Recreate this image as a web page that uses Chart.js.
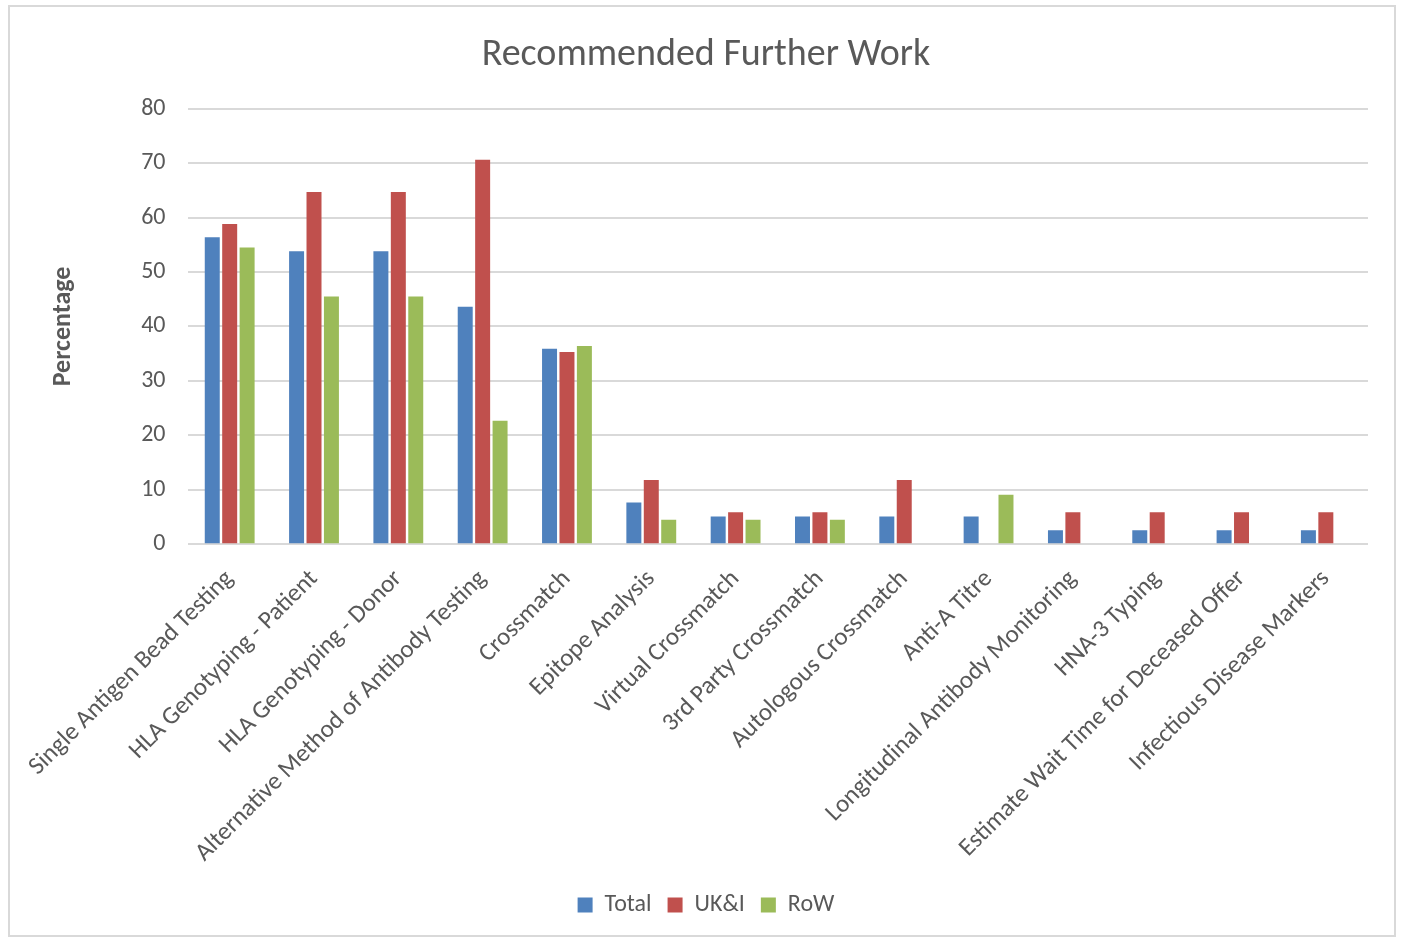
<!DOCTYPE html>
<html>
<head>
<meta charset="utf-8">
<script src="https://cdn.jsdelivr.net/npm/chart.js@4.4.1/dist/chart.umd.min.js"></script>
<style>
  html, body { margin: 0; padding: 0; background: #fff; }
  #frame {
    position: absolute; left: 8px; top: 5px; width: 1388px; height: 932px;
    border: 2px solid #d9d9d9; box-sizing: border-box; background: #fff;
  }
  #wrap { position: absolute; left: 0; top: 0; width: 1384px; height: 928px; }
</style>
</head>
<body>
<div id="frame"><div id="wrap"><canvas id="chart"></canvas></div></div>
<script>
// categorias e valores (%)
const categories = [
  'Single Antigen Bead Testing', 'HLA Genotyping - Patient', 'HLA Genotyping - Donor',
  'Alternative Method of Antibody Testing', 'Crossmatch', 'Epitope Analysis',
  'Virtual Crossmatch', '3rd Party Crossmatch', 'Autologous Crossmatch', 'Anti-A Titre',
  'Longitudinal Antibody Monitoring', 'HNA-3 Typing', 'Estimate Wait Time for Deceased Offer',
  'Infectious Disease Markers'
];
const seriesNames = ['Total', 'UK&I', 'RoW'];
const totalValues = [56.4, 53.8, 53.8, 43.6, 35.9, 7.7, 5.1, 5.1, 5.1, 5.1, 2.6, 2.6, 2.6, 2.6];
const ukiValues   = [58.8, 64.7, 64.7, 70.6, 35.3, 11.8, 5.9, 5.9, 11.8, 0, 5.9, 5.9, 5.9, 5.9];
const rowValues   = [54.5, 45.5, 45.5, 22.7, 36.4, 4.5, 4.5, 4.5, 0, 9.1, 0, 0, 0, 0];
const yTicks = [0, 10, 20, 30, 40, 50, 60, 70, 80];

const colors = ['#4f81bd', '#c0504d', '#9bbb59'];
const textColor = '#595959';
const fontFamily = "Carlito, 'Open Sans', sans-serif";

const ctx = document.getElementById('chart').getContext('2d');
new Chart(ctx, {
  type: 'bar',
  data: {
    labels: categories,
    datasets: [totalValues, ukiValues, rowValues].map((vals, i) => ({
      label: seriesNames[i],
      data: vals,
      backgroundColor: colors[i],
      borderWidth: 0,
      categoryPercentage: 0.62,
      barPercentage: 0.86
    }))
  },
  options: {
    responsive: true,
    maintainAspectRatio: false,
    animation: false,
    layout: { padding: { left: 34, right: 26, top: 10, bottom: 8 } },
    plugins: {
      title: {
        display: true,
        text: 'Recommended Further Work',
        color: textColor,
        font: { family: fontFamily, size: 38, weight: 'normal' },
        padding: { top: 16, bottom: 30 }
      },
      legend: {
        position: 'bottom',
        labels: {
          color: textColor,
          font: { family: fontFamily, size: 24 },
          boxWidth: 15, boxHeight: 15, padding: 16
        }
      },
      tooltip: { enabled: false }
    },
    scales: {
      x: {
        grid: { display: false },
        border: { display: false },
        ticks: {
          color: textColor,
          font: { family: fontFamily, size: 25 },
          minRotation: 45, maxRotation: 45, autoSkip: false, padding: 12
        },
        // ajuste fino da altura do eixo (rótulos inclinados)
        afterFit: axis => { axis.height -= 3; }
      },
      y: {
        min: yTicks[0],
        max: yTicks[yTicks.length - 1],
        afterBuildTicks: axis => { axis.ticks = yTicks.map(v => ({ value: v })); },
        grid: { color: '#d9d9d9', lineWidth: 2, drawTicks: false },
        border: { display: false },
        ticks: { color: textColor, font: { family: fontFamily, size: 24 }, padding: 22 },
        title: {
          display: true, text: 'Percentage', color: textColor,
          font: { family: fontFamily, size: 26, weight: 'bold' }, padding: { bottom: 40 }
        }
      }
    }
  }
});
</script>
</body>
</html>
